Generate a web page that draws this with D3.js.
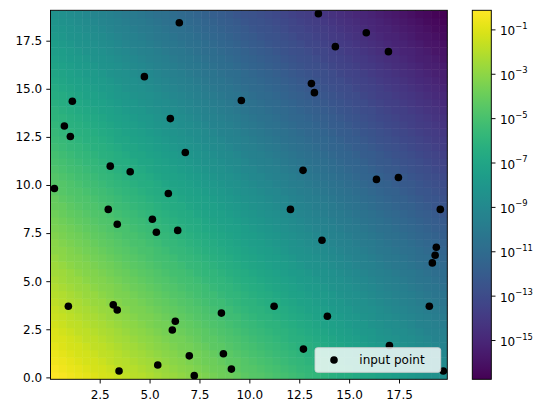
<!DOCTYPE html>
<html>
<head>
<meta charset="utf-8">
<script src="https://cdn.jsdelivr.net/npm/d3@7"></script>
<style>
body { margin: 0; background: #fff; }
text { font-family: "DejaVu Sans", sans-serif; font-size: 12px; fill: #000; }
</style>
</head>
<body>
<script>
var width = 549,
    height = 413;

// scattered input points
var pointX = [0.23, 0.73, 1.03, 1.13, 3.03, 4.03, 4.74, 5.94, 6.04, 6.49,
              6.79, 9.60, 2.93, 13.46, 15.86, 14.31, 16.97, 13.11, 13.26, 12.69,
              16.37, 17.47, 12.06, 19.57, 3.38, 5.14, 5.34, 6.41, 0.93, 3.18,
              3.38, 8.60, 6.29, 6.14, 6.99, 8.70, 5.41, 3.47, 7.24, 9.10,
              11.24, 13.64, 19.37, 19.31, 19.17, 19.02, 13.91, 12.71, 17.02, 19.72];
var pointY = [9.82, 13.07, 12.52, 14.35, 10.98, 10.69, 15.63, 9.56, 13.45, 18.43,
              11.69, 14.39, 8.73, 18.90, 17.91, 17.19, 16.93, 15.27, 14.80, 10.76,
              10.29, 10.39, 8.73, 8.73, 7.96, 8.22, 7.54, 7.64, 3.70, 3.77,
              3.50, 3.34, 2.92, 2.46, 1.12, 1.23, 0.64, 0.33, 0.09, 0.43,
              3.70, 7.13, 6.76, 6.35, 5.95, 3.70, 3.18, 1.47, 1.66, 0.33];

// extent of the interpolation grid
var gridX = [0.035, 19.92],
    gridY = [-0.10, 19.08];

// log10 of the interpolated value on the 50x50 grid, first row at the bottom
var logZ = [
  [-0.1,-0.3,-0.5,-0.7,-0.8,-1.0,-1.2,-1.3,-1.5,-1.7,-1.9,-2.0,-2.2,-2.4,-2.6,-2.7,-2.9,-3.1,-3.2,-3.4,-3.6,-3.8,-3.9,-4.1,-4.3,-4.5,-4.6,-4.8,-5.0,-5.1,-5.3,-5.5,-5.7,-5.8,-6.0,-6.2,-6.4,-6.5,-6.7,-6.9,-7.0,-7.2,-7.4,-7.6,-7.7,-7.9,-8.1,-8.3,-8.4,-8.6],
  [-0.3,-0.5,-0.7,-0.8,-1.0,-1.2,-1.3,-1.5,-1.7,-1.9,-2.0,-2.2,-2.4,-2.6,-2.7,-2.9,-3.1,-3.2,-3.4,-3.6,-3.8,-3.9,-4.1,-4.3,-4.5,-4.6,-4.8,-5.0,-5.1,-5.3,-5.5,-5.7,-5.8,-6.0,-6.2,-6.4,-6.5,-6.7,-6.9,-7.0,-7.2,-7.4,-7.6,-7.7,-7.9,-8.1,-8.3,-8.4,-8.6,-8.8],
  [-0.5,-0.6,-0.8,-1.0,-1.2,-1.3,-1.5,-1.7,-1.9,-2.0,-2.2,-2.4,-2.5,-2.7,-2.9,-3.1,-3.2,-3.4,-3.6,-3.8,-3.9,-4.1,-4.3,-4.4,-4.6,-4.8,-5.0,-5.1,-5.3,-5.5,-5.7,-5.8,-6.0,-6.2,-6.3,-6.5,-6.7,-6.9,-7.0,-7.2,-7.4,-7.6,-7.7,-7.9,-8.1,-8.2,-8.4,-8.6,-8.8,-8.9],
  [-0.6,-0.8,-1.0,-1.2,-1.3,-1.5,-1.7,-1.8,-2.0,-2.2,-2.4,-2.5,-2.7,-2.9,-3.1,-3.2,-3.4,-3.6,-3.7,-3.9,-4.1,-4.3,-4.4,-4.6,-4.8,-5.0,-5.1,-5.3,-5.5,-5.6,-5.8,-6.0,-6.2,-6.3,-6.5,-6.7,-6.9,-7.0,-7.2,-7.4,-7.5,-7.7,-7.9,-8.1,-8.2,-8.4,-8.6,-8.8,-8.9,-9.1],
  [-0.8,-1.0,-1.2,-1.3,-1.5,-1.7,-1.8,-2.0,-2.2,-2.4,-2.5,-2.7,-2.9,-3.1,-3.2,-3.4,-3.6,-3.7,-3.9,-4.1,-4.3,-4.4,-4.6,-4.8,-5.0,-5.1,-5.3,-5.5,-5.6,-5.8,-6.0,-6.2,-6.3,-6.5,-6.7,-6.9,-7.0,-7.2,-7.4,-7.5,-7.7,-7.9,-8.1,-8.2,-8.4,-8.6,-8.8,-8.9,-9.1,-9.3],
  [-1.0,-1.1,-1.3,-1.5,-1.7,-1.8,-2.0,-2.2,-2.4,-2.5,-2.7,-2.9,-3.0,-3.2,-3.4,-3.6,-3.7,-3.9,-4.1,-4.3,-4.4,-4.6,-4.8,-4.9,-5.1,-5.3,-5.5,-5.6,-5.8,-6.0,-6.2,-6.3,-6.5,-6.7,-6.8,-7.0,-7.2,-7.4,-7.5,-7.7,-7.9,-8.1,-8.2,-8.4,-8.6,-8.7,-8.9,-9.1,-9.3,-9.4],
  [-1.1,-1.3,-1.5,-1.7,-1.8,-2.0,-2.2,-2.3,-2.5,-2.7,-2.9,-3.0,-3.2,-3.4,-3.6,-3.7,-3.9,-4.1,-4.2,-4.4,-4.6,-4.8,-4.9,-5.1,-5.3,-5.5,-5.6,-5.8,-6.0,-6.1,-6.3,-6.5,-6.7,-6.8,-7.0,-7.2,-7.4,-7.5,-7.7,-7.9,-8.0,-8.2,-8.4,-8.6,-8.7,-8.9,-9.1,-9.3,-9.4,-9.6],
  [-1.3,-1.5,-1.7,-1.8,-2.0,-2.2,-2.3,-2.5,-2.7,-2.9,-3.0,-3.2,-3.4,-3.6,-3.7,-3.9,-4.1,-4.2,-4.4,-4.6,-4.8,-4.9,-5.1,-5.3,-5.5,-5.6,-5.8,-6.0,-6.1,-6.3,-6.5,-6.7,-6.8,-7.0,-7.2,-7.4,-7.5,-7.7,-7.9,-8.0,-8.2,-8.4,-8.6,-8.7,-8.9,-9.1,-9.3,-9.4,-9.6,-9.8],
  [-1.5,-1.6,-1.8,-2.0,-2.2,-2.3,-2.5,-2.7,-2.9,-3.0,-3.2,-3.4,-3.5,-3.7,-3.9,-4.1,-4.2,-4.4,-4.6,-4.8,-4.9,-5.1,-5.3,-5.4,-5.6,-5.8,-6.0,-6.1,-6.3,-6.5,-6.7,-6.8,-7.0,-7.2,-7.3,-7.5,-7.7,-7.9,-8.0,-8.2,-8.4,-8.6,-8.7,-8.9,-9.1,-9.2,-9.4,-9.6,-9.8,-9.9],
  [-1.6,-1.8,-2.0,-2.2,-2.3,-2.5,-2.7,-2.8,-3.0,-3.2,-3.4,-3.5,-3.7,-3.9,-4.1,-4.2,-4.4,-4.6,-4.7,-4.9,-5.1,-5.3,-5.4,-5.6,-5.8,-6.0,-6.1,-6.3,-6.5,-6.6,-6.8,-7.0,-7.2,-7.3,-7.5,-7.7,-7.9,-8.0,-8.2,-8.4,-8.5,-8.7,-8.9,-9.1,-9.2,-9.4,-9.6,-9.8,-9.9,-10.1],
  [-1.8,-2.0,-2.2,-2.3,-2.5,-2.7,-2.8,-3.0,-3.2,-3.4,-3.5,-3.7,-3.9,-4.1,-4.2,-4.4,-4.6,-4.7,-4.9,-5.1,-5.3,-5.4,-5.6,-5.8,-6.0,-6.1,-6.3,-6.5,-6.6,-6.8,-7.0,-7.2,-7.3,-7.5,-7.7,-7.9,-8.0,-8.2,-8.4,-8.5,-8.7,-8.9,-9.1,-9.2,-9.4,-9.6,-9.8,-9.9,-10.1,-10.3],
  [-2.0,-2.1,-2.3,-2.5,-2.7,-2.8,-3.0,-3.2,-3.4,-3.5,-3.7,-3.9,-4.0,-4.2,-4.4,-4.6,-4.7,-4.9,-5.1,-5.3,-5.4,-5.6,-5.8,-5.9,-6.1,-6.3,-6.5,-6.6,-6.8,-7.0,-7.2,-7.3,-7.5,-7.7,-7.8,-8.0,-8.2,-8.4,-8.5,-8.7,-8.9,-9.1,-9.2,-9.4,-9.6,-9.7,-9.9,-10.1,-10.3,-10.4],
  [-2.1,-2.3,-2.5,-2.7,-2.8,-3.0,-3.2,-3.3,-3.5,-3.7,-3.9,-4.0,-4.2,-4.4,-4.6,-4.7,-4.9,-5.1,-5.2,-5.4,-5.6,-5.8,-5.9,-6.1,-6.3,-6.5,-6.6,-6.8,-7.0,-7.1,-7.3,-7.5,-7.7,-7.8,-8.0,-8.2,-8.4,-8.5,-8.7,-8.9,-9.0,-9.2,-9.4,-9.6,-9.7,-9.9,-10.1,-10.3,-10.4,-10.6],
  [-2.3,-2.5,-2.7,-2.8,-3.0,-3.2,-3.3,-3.5,-3.7,-3.9,-4.0,-4.2,-4.4,-4.6,-4.7,-4.9,-5.1,-5.2,-5.4,-5.6,-5.8,-5.9,-6.1,-6.3,-6.5,-6.6,-6.8,-7.0,-7.1,-7.3,-7.5,-7.7,-7.8,-8.0,-8.2,-8.4,-8.5,-8.7,-8.9,-9.0,-9.2,-9.4,-9.6,-9.7,-9.9,-10.1,-10.3,-10.4,-10.6,-10.8],
  [-2.5,-2.6,-2.8,-3.0,-3.2,-3.3,-3.5,-3.7,-3.9,-4.0,-4.2,-4.4,-4.5,-4.7,-4.9,-5.1,-5.2,-5.4,-5.6,-5.8,-5.9,-6.1,-6.3,-6.4,-6.6,-6.8,-7.0,-7.1,-7.3,-7.5,-7.7,-7.8,-8.0,-8.2,-8.3,-8.5,-8.7,-8.9,-9.0,-9.2,-9.4,-9.6,-9.7,-9.9,-10.1,-10.2,-10.4,-10.6,-10.8,-10.9],
  [-2.6,-2.8,-3.0,-3.2,-3.3,-3.5,-3.7,-3.8,-4.0,-4.2,-4.4,-4.5,-4.7,-4.9,-5.1,-5.2,-5.4,-5.6,-5.7,-5.9,-6.1,-6.3,-6.4,-6.6,-6.8,-7.0,-7.1,-7.3,-7.5,-7.6,-7.8,-8.0,-8.2,-8.3,-8.5,-8.7,-8.9,-9.0,-9.2,-9.4,-9.5,-9.7,-9.9,-10.1,-10.2,-10.4,-10.6,-10.8,-10.9,-11.1],
  [-2.8,-3.0,-3.2,-3.3,-3.5,-3.7,-3.8,-4.0,-4.2,-4.4,-4.5,-4.7,-4.9,-5.1,-5.2,-5.4,-5.6,-5.7,-5.9,-6.1,-6.3,-6.4,-6.6,-6.8,-7.0,-7.1,-7.3,-7.5,-7.6,-7.8,-8.0,-8.2,-8.3,-8.5,-8.7,-8.9,-9.0,-9.2,-9.4,-9.5,-9.7,-9.9,-10.1,-10.2,-10.4,-10.6,-10.8,-10.9,-11.1,-11.3],
  [-3.0,-3.1,-3.3,-3.5,-3.7,-3.8,-4.0,-4.2,-4.4,-4.5,-4.7,-4.9,-5.0,-5.2,-5.4,-5.6,-5.7,-5.9,-6.1,-6.3,-6.4,-6.6,-6.8,-6.9,-7.1,-7.3,-7.5,-7.6,-7.8,-8.0,-8.2,-8.3,-8.5,-8.7,-8.8,-9.0,-9.2,-9.4,-9.5,-9.7,-9.9,-10.1,-10.2,-10.4,-10.6,-10.7,-10.9,-11.1,-11.3,-11.4],
  [-3.1,-3.3,-3.5,-3.7,-3.8,-4.0,-4.2,-4.3,-4.5,-4.7,-4.9,-5.0,-5.2,-5.4,-5.6,-5.7,-5.9,-6.1,-6.2,-6.4,-6.6,-6.8,-6.9,-7.1,-7.3,-7.5,-7.6,-7.8,-8.0,-8.1,-8.3,-8.5,-8.7,-8.8,-9.0,-9.2,-9.4,-9.5,-9.7,-9.9,-10.0,-10.2,-10.4,-10.6,-10.7,-10.9,-11.1,-11.3,-11.4,-11.6],
  [-3.3,-3.5,-3.7,-3.8,-4.0,-4.2,-4.3,-4.5,-4.7,-4.9,-5.0,-5.2,-5.4,-5.6,-5.7,-5.9,-6.1,-6.2,-6.4,-6.6,-6.8,-6.9,-7.1,-7.3,-7.5,-7.6,-7.8,-8.0,-8.1,-8.3,-8.5,-8.7,-8.8,-9.0,-9.2,-9.4,-9.5,-9.7,-9.9,-10.0,-10.2,-10.4,-10.6,-10.7,-10.9,-11.1,-11.3,-11.4,-11.6,-11.8],
  [-3.5,-3.6,-3.8,-4.0,-4.2,-4.3,-4.5,-4.7,-4.9,-5.0,-5.2,-5.4,-5.5,-5.7,-5.9,-6.1,-6.2,-6.4,-6.6,-6.8,-6.9,-7.1,-7.3,-7.4,-7.6,-7.8,-8.0,-8.1,-8.3,-8.5,-8.7,-8.8,-9.0,-9.2,-9.3,-9.5,-9.7,-9.9,-10.0,-10.2,-10.4,-10.6,-10.7,-10.9,-11.1,-11.2,-11.4,-11.6,-11.8,-11.9],
  [-3.6,-3.8,-4.0,-4.2,-4.3,-4.5,-4.7,-4.8,-5.0,-5.2,-5.4,-5.5,-5.7,-5.9,-6.1,-6.2,-6.4,-6.6,-6.7,-6.9,-7.1,-7.3,-7.4,-7.6,-7.8,-8.0,-8.1,-8.3,-8.5,-8.6,-8.8,-9.0,-9.2,-9.3,-9.5,-9.7,-9.9,-10.0,-10.2,-10.4,-10.5,-10.7,-10.9,-11.1,-11.2,-11.4,-11.6,-11.8,-11.9,-12.1],
  [-3.8,-4.0,-4.2,-4.3,-4.5,-4.7,-4.8,-5.0,-5.2,-5.4,-5.5,-5.7,-5.9,-6.1,-6.2,-6.4,-6.6,-6.7,-6.9,-7.1,-7.3,-7.4,-7.6,-7.8,-8.0,-8.1,-8.3,-8.5,-8.6,-8.8,-9.0,-9.2,-9.3,-9.5,-9.7,-9.9,-10.0,-10.2,-10.4,-10.5,-10.7,-10.9,-11.1,-11.2,-11.4,-11.6,-11.8,-11.9,-12.1,-12.3],
  [-4.0,-4.1,-4.3,-4.5,-4.7,-4.8,-5.0,-5.2,-5.4,-5.5,-5.7,-5.9,-6.0,-6.2,-6.4,-6.6,-6.7,-6.9,-7.1,-7.3,-7.4,-7.6,-7.8,-7.9,-8.1,-8.3,-8.5,-8.6,-8.8,-9.0,-9.2,-9.3,-9.5,-9.7,-9.8,-10.0,-10.2,-10.4,-10.5,-10.7,-10.9,-11.1,-11.2,-11.4,-11.6,-11.7,-11.9,-12.1,-12.3,-12.4],
  [-4.1,-4.3,-4.5,-4.7,-4.8,-5.0,-5.2,-5.3,-5.5,-5.7,-5.9,-6.0,-6.2,-6.4,-6.6,-6.7,-6.9,-7.1,-7.2,-7.4,-7.6,-7.8,-7.9,-8.1,-8.3,-8.5,-8.6,-8.8,-9.0,-9.1,-9.3,-9.5,-9.7,-9.8,-10.0,-10.2,-10.4,-10.5,-10.7,-10.9,-11.0,-11.2,-11.4,-11.6,-11.7,-11.9,-12.1,-12.3,-12.4,-12.6],
  [-4.3,-4.5,-4.7,-4.8,-5.0,-5.2,-5.3,-5.5,-5.7,-5.9,-6.0,-6.2,-6.4,-6.6,-6.7,-6.9,-7.1,-7.2,-7.4,-7.6,-7.8,-7.9,-8.1,-8.3,-8.5,-8.6,-8.8,-9.0,-9.1,-9.3,-9.5,-9.7,-9.8,-10.0,-10.2,-10.4,-10.5,-10.7,-10.9,-11.0,-11.2,-11.4,-11.6,-11.7,-11.9,-12.1,-12.3,-12.4,-12.6,-12.8],
  [-4.5,-4.6,-4.8,-5.0,-5.2,-5.3,-5.5,-5.7,-5.9,-6.0,-6.2,-6.4,-6.5,-6.7,-6.9,-7.1,-7.2,-7.4,-7.6,-7.8,-7.9,-8.1,-8.3,-8.4,-8.6,-8.8,-9.0,-9.1,-9.3,-9.5,-9.7,-9.8,-10.0,-10.2,-10.3,-10.5,-10.7,-10.9,-11.0,-11.2,-11.4,-11.6,-11.7,-11.9,-12.1,-12.2,-12.4,-12.6,-12.8,-12.9],
  [-4.6,-4.8,-5.0,-5.2,-5.3,-5.5,-5.7,-5.8,-6.0,-6.2,-6.4,-6.5,-6.7,-6.9,-7.1,-7.2,-7.4,-7.6,-7.7,-7.9,-8.1,-8.3,-8.4,-8.6,-8.8,-9.0,-9.1,-9.3,-9.5,-9.6,-9.8,-10.0,-10.2,-10.3,-10.5,-10.7,-10.9,-11.0,-11.2,-11.4,-11.5,-11.7,-11.9,-12.1,-12.2,-12.4,-12.6,-12.8,-12.9,-13.1],
  [-4.8,-5.0,-5.2,-5.3,-5.5,-5.7,-5.8,-6.0,-6.2,-6.4,-6.5,-6.7,-6.9,-7.1,-7.2,-7.4,-7.6,-7.7,-7.9,-8.1,-8.3,-8.4,-8.6,-8.8,-9.0,-9.1,-9.3,-9.5,-9.6,-9.8,-10.0,-10.2,-10.3,-10.5,-10.7,-10.9,-11.0,-11.2,-11.4,-11.5,-11.7,-11.9,-12.1,-12.2,-12.4,-12.6,-12.8,-12.9,-13.1,-13.3],
  [-5.0,-5.1,-5.3,-5.5,-5.7,-5.8,-6.0,-6.2,-6.4,-6.5,-6.7,-6.9,-7.0,-7.2,-7.4,-7.6,-7.7,-7.9,-8.1,-8.3,-8.4,-8.6,-8.8,-8.9,-9.1,-9.3,-9.5,-9.6,-9.8,-10.0,-10.2,-10.3,-10.5,-10.7,-10.8,-11.0,-11.2,-11.4,-11.5,-11.7,-11.9,-12.1,-12.2,-12.4,-12.6,-12.7,-12.9,-13.1,-13.3,-13.4],
  [-5.1,-5.3,-5.5,-5.7,-5.8,-6.0,-6.2,-6.3,-6.5,-6.7,-6.9,-7.0,-7.2,-7.4,-7.6,-7.7,-7.9,-8.1,-8.2,-8.4,-8.6,-8.8,-8.9,-9.1,-9.3,-9.5,-9.6,-9.8,-10.0,-10.1,-10.3,-10.5,-10.7,-10.8,-11.0,-11.2,-11.4,-11.5,-11.7,-11.9,-12.0,-12.2,-12.4,-12.6,-12.7,-12.9,-13.1,-13.3,-13.4,-13.6],
  [-5.3,-5.5,-5.7,-5.8,-6.0,-6.2,-6.3,-6.5,-6.7,-6.9,-7.0,-7.2,-7.4,-7.6,-7.7,-7.9,-8.1,-8.2,-8.4,-8.6,-8.8,-8.9,-9.1,-9.3,-9.5,-9.6,-9.8,-10.0,-10.1,-10.3,-10.5,-10.7,-10.8,-11.0,-11.2,-11.4,-11.5,-11.7,-11.9,-12.0,-12.2,-12.4,-12.6,-12.7,-12.9,-13.1,-13.3,-13.4,-13.6,-13.8],
  [-5.5,-5.6,-5.8,-6.0,-6.2,-6.3,-6.5,-6.7,-6.9,-7.0,-7.2,-7.4,-7.5,-7.7,-7.9,-8.1,-8.2,-8.4,-8.6,-8.8,-8.9,-9.1,-9.3,-9.4,-9.6,-9.8,-10.0,-10.1,-10.3,-10.5,-10.7,-10.8,-11.0,-11.2,-11.3,-11.5,-11.7,-11.9,-12.0,-12.2,-12.4,-12.6,-12.7,-12.9,-13.1,-13.2,-13.4,-13.6,-13.8,-13.9],
  [-5.6,-5.8,-6.0,-6.2,-6.3,-6.5,-6.7,-6.8,-7.0,-7.2,-7.4,-7.5,-7.7,-7.9,-8.1,-8.2,-8.4,-8.6,-8.7,-8.9,-9.1,-9.3,-9.4,-9.6,-9.8,-10.0,-10.1,-10.3,-10.5,-10.6,-10.8,-11.0,-11.2,-11.3,-11.5,-11.7,-11.9,-12.0,-12.2,-12.4,-12.5,-12.7,-12.9,-13.1,-13.2,-13.4,-13.6,-13.8,-13.9,-14.1],
  [-5.8,-6.0,-6.2,-6.3,-6.5,-6.7,-6.8,-7.0,-7.2,-7.4,-7.5,-7.7,-7.9,-8.1,-8.2,-8.4,-8.6,-8.7,-8.9,-9.1,-9.3,-9.4,-9.6,-9.8,-10.0,-10.1,-10.3,-10.5,-10.6,-10.8,-11.0,-11.2,-11.3,-11.5,-11.7,-11.9,-12.0,-12.2,-12.4,-12.5,-12.7,-12.9,-13.1,-13.2,-13.4,-13.6,-13.8,-13.9,-14.1,-14.3],
  [-6.0,-6.1,-6.3,-6.5,-6.7,-6.8,-7.0,-7.2,-7.4,-7.5,-7.7,-7.9,-8.0,-8.2,-8.4,-8.6,-8.7,-8.9,-9.1,-9.3,-9.4,-9.6,-9.8,-9.9,-10.1,-10.3,-10.5,-10.6,-10.8,-11.0,-11.2,-11.3,-11.5,-11.7,-11.8,-12.0,-12.2,-12.4,-12.5,-12.7,-12.9,-13.1,-13.2,-13.4,-13.6,-13.7,-13.9,-14.1,-14.3,-14.4],
  [-6.1,-6.3,-6.5,-6.7,-6.8,-7.0,-7.2,-7.3,-7.5,-7.7,-7.9,-8.0,-8.2,-8.4,-8.6,-8.7,-8.9,-9.1,-9.2,-9.4,-9.6,-9.8,-9.9,-10.1,-10.3,-10.5,-10.6,-10.8,-11.0,-11.1,-11.3,-11.5,-11.7,-11.8,-12.0,-12.2,-12.4,-12.5,-12.7,-12.9,-13.0,-13.2,-13.4,-13.6,-13.7,-13.9,-14.1,-14.3,-14.4,-14.6],
  [-6.3,-6.5,-6.7,-6.8,-7.0,-7.2,-7.3,-7.5,-7.7,-7.9,-8.0,-8.2,-8.4,-8.6,-8.7,-8.9,-9.1,-9.2,-9.4,-9.6,-9.8,-9.9,-10.1,-10.3,-10.5,-10.6,-10.8,-11.0,-11.1,-11.3,-11.5,-11.7,-11.8,-12.0,-12.2,-12.4,-12.5,-12.7,-12.9,-13.0,-13.2,-13.4,-13.6,-13.7,-13.9,-14.1,-14.3,-14.4,-14.6,-14.8],
  [-6.5,-6.6,-6.8,-7.0,-7.2,-7.3,-7.5,-7.7,-7.9,-8.0,-8.2,-8.4,-8.5,-8.7,-8.9,-9.1,-9.2,-9.4,-9.6,-9.8,-9.9,-10.1,-10.3,-10.4,-10.6,-10.8,-11.0,-11.1,-11.3,-11.5,-11.7,-11.8,-12.0,-12.2,-12.3,-12.5,-12.7,-12.9,-13.0,-13.2,-13.4,-13.6,-13.7,-13.9,-14.1,-14.2,-14.4,-14.6,-14.8,-14.9],
  [-6.6,-6.8,-7.0,-7.2,-7.3,-7.5,-7.7,-7.8,-8.0,-8.2,-8.4,-8.5,-8.7,-8.9,-9.1,-9.2,-9.4,-9.6,-9.7,-9.9,-10.1,-10.3,-10.4,-10.6,-10.8,-11.0,-11.1,-11.3,-11.5,-11.6,-11.8,-12.0,-12.2,-12.3,-12.5,-12.7,-12.9,-13.0,-13.2,-13.4,-13.5,-13.7,-13.9,-14.1,-14.2,-14.4,-14.6,-14.8,-14.9,-15.1],
  [-6.8,-7.0,-7.2,-7.3,-7.5,-7.7,-7.8,-8.0,-8.2,-8.4,-8.5,-8.7,-8.9,-9.1,-9.2,-9.4,-9.6,-9.7,-9.9,-10.1,-10.3,-10.4,-10.6,-10.8,-11.0,-11.1,-11.3,-11.5,-11.6,-11.8,-12.0,-12.2,-12.3,-12.5,-12.7,-12.9,-13.0,-13.2,-13.4,-13.5,-13.7,-13.9,-14.1,-14.2,-14.4,-14.6,-14.8,-14.9,-15.1,-15.3],
  [-7.0,-7.1,-7.3,-7.5,-7.7,-7.8,-8.0,-8.2,-8.4,-8.5,-8.7,-8.9,-9.0,-9.2,-9.4,-9.6,-9.7,-9.9,-10.1,-10.3,-10.4,-10.6,-10.8,-10.9,-11.1,-11.3,-11.5,-11.6,-11.8,-12.0,-12.2,-12.3,-12.5,-12.7,-12.8,-13.0,-13.2,-13.4,-13.5,-13.7,-13.9,-14.1,-14.2,-14.4,-14.6,-14.7,-14.9,-15.1,-15.3,-15.4],
  [-7.1,-7.3,-7.5,-7.7,-7.8,-8.0,-8.2,-8.3,-8.5,-8.7,-8.9,-9.0,-9.2,-9.4,-9.6,-9.7,-9.9,-10.1,-10.2,-10.4,-10.6,-10.8,-10.9,-11.1,-11.3,-11.5,-11.6,-11.8,-12.0,-12.1,-12.3,-12.5,-12.7,-12.8,-13.0,-13.2,-13.4,-13.5,-13.7,-13.9,-14.0,-14.2,-14.4,-14.6,-14.7,-14.9,-15.1,-15.3,-15.4,-15.6],
  [-7.3,-7.5,-7.7,-7.8,-8.0,-8.2,-8.3,-8.5,-8.7,-8.9,-9.0,-9.2,-9.4,-9.6,-9.7,-9.9,-10.1,-10.2,-10.4,-10.6,-10.8,-10.9,-11.1,-11.3,-11.5,-11.6,-11.8,-12.0,-12.1,-12.3,-12.5,-12.7,-12.8,-13.0,-13.2,-13.4,-13.5,-13.7,-13.9,-14.0,-14.2,-14.4,-14.6,-14.7,-14.9,-15.1,-15.3,-15.4,-15.6,-15.8],
  [-7.5,-7.6,-7.8,-8.0,-8.2,-8.3,-8.5,-8.7,-8.9,-9.0,-9.2,-9.4,-9.5,-9.7,-9.9,-10.1,-10.2,-10.4,-10.6,-10.8,-10.9,-11.1,-11.3,-11.4,-11.6,-11.8,-12.0,-12.1,-12.3,-12.5,-12.7,-12.8,-13.0,-13.2,-13.3,-13.5,-13.7,-13.9,-14.0,-14.2,-14.4,-14.6,-14.7,-14.9,-15.1,-15.2,-15.4,-15.6,-15.8,-15.9],
  [-7.6,-7.8,-8.0,-8.2,-8.3,-8.5,-8.7,-8.8,-9.0,-9.2,-9.4,-9.5,-9.7,-9.9,-10.1,-10.2,-10.4,-10.6,-10.7,-10.9,-11.1,-11.3,-11.4,-11.6,-11.8,-12.0,-12.1,-12.3,-12.5,-12.6,-12.8,-13.0,-13.2,-13.3,-13.5,-13.7,-13.9,-14.0,-14.2,-14.4,-14.5,-14.7,-14.9,-15.1,-15.2,-15.4,-15.6,-15.8,-15.9,-16.1],
  [-7.8,-8.0,-8.2,-8.3,-8.5,-8.7,-8.8,-9.0,-9.2,-9.4,-9.5,-9.7,-9.9,-10.1,-10.2,-10.4,-10.6,-10.7,-10.9,-11.1,-11.3,-11.4,-11.6,-11.8,-12.0,-12.1,-12.3,-12.5,-12.6,-12.8,-13.0,-13.2,-13.3,-13.5,-13.7,-13.9,-14.0,-14.2,-14.4,-14.5,-14.7,-14.9,-15.1,-15.2,-15.4,-15.6,-15.8,-15.9,-16.1,-16.3],
  [-8.0,-8.1,-8.3,-8.5,-8.7,-8.8,-9.0,-9.2,-9.4,-9.5,-9.7,-9.9,-10.0,-10.2,-10.4,-10.6,-10.7,-10.9,-11.1,-11.3,-11.4,-11.6,-11.8,-11.9,-12.1,-12.3,-12.5,-12.6,-12.8,-13.0,-13.2,-13.3,-13.5,-13.7,-13.8,-14.0,-14.2,-14.4,-14.5,-14.7,-14.9,-15.1,-15.2,-15.4,-15.6,-15.7,-15.9,-16.1,-16.3,-16.4],
  [-8.1,-8.3,-8.5,-8.7,-8.8,-9.0,-9.2,-9.3,-9.5,-9.7,-9.9,-10.0,-10.2,-10.4,-10.6,-10.7,-10.9,-11.1,-11.2,-11.4,-11.6,-11.8,-11.9,-12.1,-12.3,-12.5,-12.6,-12.8,-13.0,-13.1,-13.3,-13.5,-13.7,-13.8,-14.0,-14.2,-14.4,-14.5,-14.7,-14.9,-15.0,-15.2,-15.4,-15.6,-15.7,-15.9,-16.1,-16.3,-16.4,-16.6],
  [-8.3,-8.5,-8.7,-8.8,-9.0,-9.2,-9.3,-9.5,-9.7,-9.9,-10.0,-10.2,-10.4,-10.6,-10.7,-10.9,-11.1,-11.2,-11.4,-11.6,-11.8,-11.9,-12.1,-12.3,-12.5,-12.6,-12.8,-13.0,-13.1,-13.3,-13.5,-13.7,-13.8,-14.0,-14.2,-14.4,-14.5,-14.7,-14.9,-15.0,-15.2,-15.4,-15.6,-15.7,-15.9,-16.1,-16.3,-16.4,-16.6,-16.8]
];

// colour range of the log norm (log10 of vmin, vmax)
var colorRange = [-16.77, -0.14];

var xTicks = [2.5, 5, 7.5, 10, 12.5, 15, 17.5],
    yTicks = [0, 2.5, 5, 7.5, 10, 12.5, 15, 17.5],
    cbTicks = [-1, -3, -5, -7, -9, -11, -13, -15];

var legendLabel = "input point";

var plot = {left: 50.5, right: 447.3, top: 10.3, bottom: 379.3},
    bar = {left: 472.3, right: 491.3};

var svg = d3.select("body").append("svg")
    .attr("width", width)
    .attr("height", height);

var x = d3.scaleLinear()
    .domain(gridX)
    .range([plot.left, plot.right]);

var y = d3.scaleLinear()
    .domain(gridY)
    .range([plot.bottom, plot.top]);

var color = d3.scaleSequential(d3.interpolateViridis)
    .domain(colorRange);

var col = d3.scaleBand()
    .domain(d3.range(logZ[0].length))
    .range([x(gridX[0]), x(gridX[1])]);

var row = d3.scaleBand()
    .domain(d3.range(logZ.length))
    .range([y(gridY[0]), y(gridY[1])]);

svg.append("defs").append("clipPath")
    .attr("id", "clip")
  .append("rect")
    .attr("x", plot.left)
    .attr("y", plot.top)
    .attr("width", plot.right - plot.left)
    .attr("height", plot.bottom - plot.top);

var cells = [];
logZ.forEach(function(r, i) {
  r.forEach(function(v, j) { cells.push({r: i, c: j, v: v}); });
});

svg.append("g")
    .attr("clip-path", "url(#clip)")
  .selectAll("rect")
    .data(cells)
  .enter().append("rect")
    .attr("x", function(d) { return col(d.c); })
    .attr("y", function(d) { return row(d.r); })
    .attr("width", col.bandwidth() + 0.5)
    .attr("height", row.bandwidth() + 0.5)
    .attr("fill", function(d) { return color(d.v); });

svg.append("g")
    .attr("clip-path", "url(#clip)")
  .selectAll("circle")
    .data(pointX)
  .enter().append("circle")
    .attr("cx", function(d) { return x(d); })
    .attr("cy", function(d, i) { return y(pointY[i]); })
    .attr("r", 3.8)
    .attr("fill", "#000");

// axes
var xAxis = svg.append("g")
    .attr("transform", "translate(0," + plot.bottom + ")")
    .call(d3.axisBottom(x)
      .tickValues(xTicks)
      .tickFormat(d3.format(".1f"))
      .tickSize(4.2)
      .tickPadding(7.2));

var yAxis = svg.append("g")
    .attr("transform", "translate(" + plot.left + ",0)")
    .call(d3.axisLeft(y)
      .tickValues(yTicks)
      .tickFormat(d3.format(".1f"))
      .tickSize(4.2)
      .tickPadding(4.2));

[xAxis, yAxis].forEach(function(a) {
  a.select(".domain").remove();
  a.selectAll("text").attr("font-size", null).attr("font-family", null);
  a.selectAll(".tick line").attr("stroke-width", 0.95);
});

svg.append("rect")
    .attr("x", plot.left)
    .attr("y", plot.top)
    .attr("width", plot.right - plot.left)
    .attr("height", plot.bottom - plot.top)
    .attr("fill", "none")
    .attr("stroke", "#000")
    .attr("stroke-width", 0.95);

// legend
var legend = svg.append("g");

legend.append("rect")
    .attr("x", 315)
    .attr("y", 347.7)
    .attr("width", 125.7)
    .attr("height", 24.6)
    .attr("rx", 2.5)
    .attr("fill", "#fff")
    .attr("fill-opacity", 0.8)
    .attr("stroke", "#d0d0d0")
    .attr("stroke-width", 0.9);

legend.append("circle")
    .attr("cx", 334)
    .attr("cy", 360)
    .attr("r", 3.8)
    .attr("fill", "#000");

legend.append("text")
    .attr("x", 359.3)
    .attr("y", 364.3)
    .text(legendLabel);

// colorbar
var cb = d3.scaleLog()
    .domain([Math.pow(10, colorRange[0]), Math.pow(10, colorRange[1])])
    .range([plot.bottom, plot.top]);

var grad = svg.select("defs").append("linearGradient")
    .attr("id", "cbgrad")
    .attr("x1", 0).attr("y1", 1)
    .attr("x2", 0).attr("y2", 0);

grad.selectAll("stop")
    .data(d3.range(0, 1.0001, 1 / 64))
  .enter().append("stop")
    .attr("offset", function(d) { return d; })
    .attr("stop-color", function(d) { return d3.interpolateViridis(d); });

svg.append("rect")
    .attr("x", bar.left)
    .attr("y", plot.top)
    .attr("width", bar.right - bar.left)
    .attr("height", plot.bottom - plot.top)
    .attr("fill", "url(#cbgrad)")
    .attr("stroke", "#000")
    .attr("stroke-width", 0.95);

var cbAxis = svg.append("g")
    .attr("transform", "translate(" + bar.right + ",0)")
    .call(d3.axisRight(cb)
      .tickValues(cbTicks.map(function(e) { return Math.pow(10, e); }))
      .tickFormat("")
      .tickSize(4.2));

cbAxis.select(".domain").remove();
cbAxis.selectAll(".tick line").attr("stroke-width", 0.95);

var cbLabel = svg.append("g").selectAll("text")
    .data(cbTicks)
  .enter().append("text")
    .attr("x", bar.right + 8.6)
    .attr("y", function(d) { return cb(Math.pow(10, d)) + 6; });

cbLabel.append("tspan")
    .text("10");

cbLabel.append("tspan")
    .attr("dy", -6.5)
    .style("font-size", "8.4px")
    .text(function(d) { return "\u2212" + (-d); });
</script>
</body>
</html>
